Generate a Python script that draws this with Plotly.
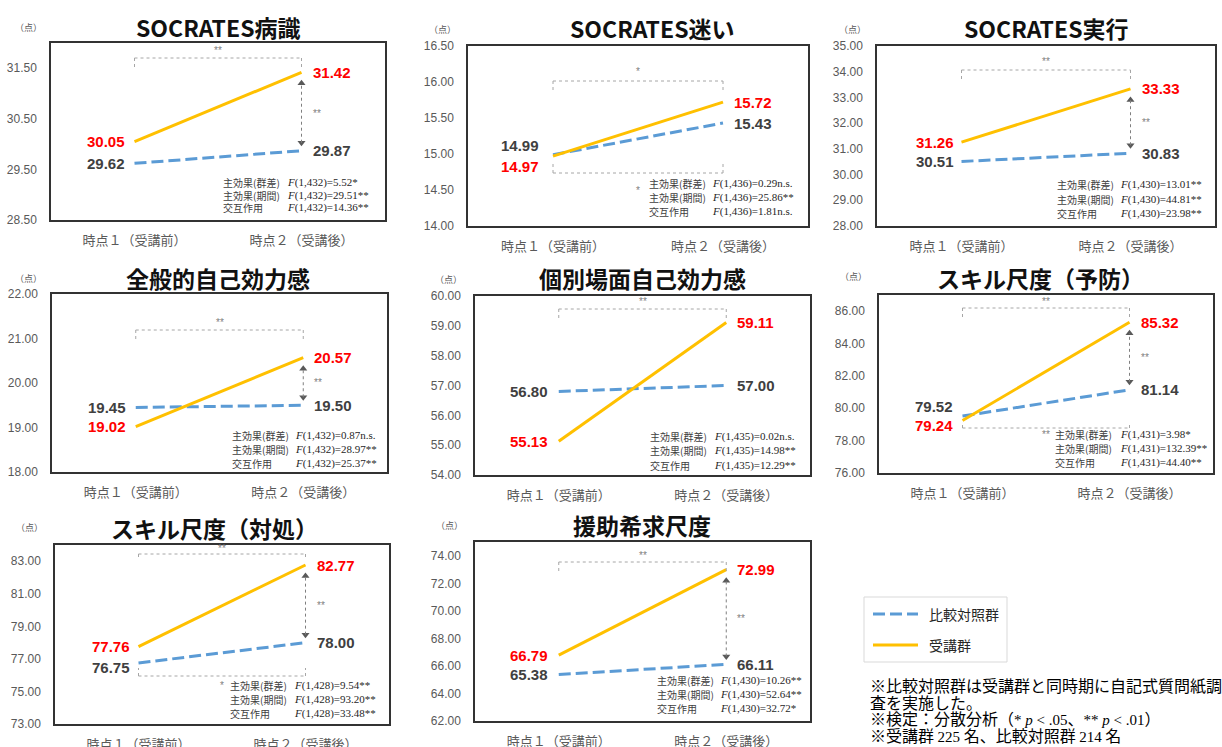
import plotly.graph_objects as go

W, H = 1222, 747

# ---- data -------------------------------------------------------------
titles = ["SOCRATES病識", "SOCRATES迷い", "SOCRATES実行", "全般的自己効力感",
          "個別場面自己効力感", "スキル尺度（予防）", "スキル尺度（対処）", "援助希求尺度"]
time_points = ["時点１（受講前）", "時点２（受講後）"]
series_names = ["比較対照群", "受講群"]

ctrl_pre = [29.62, 14.99, 30.51, 19.45, 56.80, 79.52, 76.75, 65.38]
ctrl_post = [29.87, 15.43, 30.83, 19.50, 57.00, 81.14, 78.00, 66.11]
trt_pre = [30.05, 14.97, 31.26, 19.02, 55.13, 79.24, 77.76, 66.79]
trt_post = [31.42, 15.72, 33.33, 20.57, 59.11, 85.32, 82.77, 72.99]

f_df = ["1,432", "1,436", "1,430", "1,432", "1,435", "1,431", "1,428", "1,430"]
f_group = ["5.52*", "0.29n.s.", "13.01**", "0.87n.s.", "0.02n.s.", "3.98*", "9.54**", "10.26**"]
f_period = ["29.51**", "25.86**", "44.81**", "28.97**", "14.98**", "132.39**", "93.20**", "52.64**"]
f_inter = ["14.36**", "1.81n.s.", "23.98**", "25.37**", "12.29**", "44.40**", "33.48**", "32.72*"]
effect_names = ["主効果(群差)", "主効果(期間)", "交互作用"]

sig_trt_time = ["**", "*", "**", "**", "**", "**", "**", "**"]
sig_post_group = ["**", "", "**", "**", "", "**", "**", "**"]
sig_ctrl_time = ["", "*", "", "", "", "**", "*", ""]

SERIF_SPAN = "<span style=\"font-family:'Liberation Serif';font-size:%dpx\">%s</span>"
notes = [
    "※比較対照群は受講群と同時期に自記式質問紙調",
    "査を実施した。",
    "※検定：分散分析（" + SERIF_SPAN % (15, "* <i>p</i> &lt; .05") + "、"
    + SERIF_SPAN % (15, "** <i>p</i> &lt; .01") + "）",
    "※受講群 " + SERIF_SPAN % (15, "225") + " 名、比較対照群 " + SERIF_SPAN % (15, "214") + " 名",
]

# ---- panel geometry (pixels) -----------------------------------------
panels = [
    dict(box=(51, 385, 43, 220), yr=(28.5, 32.0), dt=1, title=(218, 27), unit=(28, 27),
         stats=(221, 285, 183, 12), top=(58, 67, 51), bot=None, pre_dx=-8, shift=(0, 0)),
    dict(box=(468, 808, 46, 226), yr=(14.0, 16.5), dt=0.5, title=(652, 28), unit=(442, 29),
         stats=(647, 710, 184, 14), top=(81, 91, 72), bot=(173, 163, 190), pre_dx=-12, shift=(9, -10)),
    dict(box=(877, 1215, 46, 226), yr=(28.0, 35.0), dt=1, title=(1046, 28), unit=(852, 29),
         stats=(1055, 1118, 185, 14), top=(70, 80, 61), bot=None, pre_dx=-6, shift=(0, 0)),
    dict(box=(52, 387, 294, 472), yr=(18.0, 22.0), dt=1, title=(218, 278), unit=(28, 278),
         stats=(230, 293, 435, 14), top=(330, 339, 322), bot=None, pre_dx=-8, shift=(0, 0)),
    dict(box=(475, 810, 296, 475), yr=(54.0, 60.0), dt=1, title=(642, 278), unit=(448, 279),
         stats=(648, 712, 437, 14), top=(309, 319, 302), bot=None, pre_dx=-9, shift=(0, 0)),
    dict(box=(879, 1213, 295, 473), yr=(76.0, 87.0), dt=2, title=(1040, 278), unit=(853, 277),
         stats=(1053, 1118, 434, 14), top=(308, 318, 302), bot=(428, 422, 434), pre_dx=-8, shift=(10, -5)),
    dict(box=(55, 389, 545, 724), yr=(73.0, 84.0), dt=2, title=(214, 528), unit=(30, 527),
         stats=(228, 292, 685, 14), top=(554, 560, 548), bot=(676, 668, 685), pre_dx=-7, shift=(-5, 0)),
    dict(box=(475, 810, 542, 721), yr=(62.0, 75.0), dt=2, title=(642, 525), unit=(449, 525),
         stats=(655, 718, 680, 14), top=(562, 572, 555), bot=None, pre_dx=-9, shift=(0, 0)),
]

BLUE = "#5B9BD5"
GOLD = "#FFC000"
RED = "#FF0000"
DARK = "#404040"
GRAY = "#595959"
SIG = "#808080"
SANS = "Liberation Sans"
CJK = "Noto Sans CJK JP"
SERIF = "Liberation Serif"
CTRL_LINE = dict(color=BLUE, width=3, dash="12px,5px")
TRT_LINE = dict(color=GOLD, width=3)


def px(x):
    return x / W


def py(y):
    return 1 - y / H


fig = go.Figure()
annotations = []
shapes = []

for i, p in enumerate(panels):
    n = "" if i == 0 else str(i + 1)
    xa, ya = "x" + n, "y" + n
    x0, x1, y0, y1 = p["box"]
    lo, hi = p["yr"]
    units_per_px = (hi - lo) / (y1 - y0)

    fig.add_trace(go.Scatter(
        x=time_points, y=[ctrl_pre[i], ctrl_post[i]], mode="lines", line=CTRL_LINE,
        name=series_names[0], showlegend=False, xaxis=xa, yaxis=ya, hoverinfo="skip"))
    fig.add_trace(go.Scatter(
        x=time_points, y=[trt_pre[i], trt_post[i]], mode="lines", line=TRT_LINE,
        name=series_names[1], showlegend=False, xaxis=xa, yaxis=ya, hoverinfo="skip"))

    fig.update_layout(**{
        "xaxis" + n: dict(domain=[px(x0), px(x1)], anchor=ya, range=[-0.5, 1.5], automargin=False,
                          showline=True, mirror=True, linecolor="#333333", linewidth=1.5,
                          showgrid=False, zeroline=False, ticks="", ticklabelstandoff=8,
                          tickfont=dict(family=CJK, size=13, color=GRAY), fixedrange=True),
        "yaxis" + n: dict(domain=[py(y1), py(y0)], anchor=xa, range=[lo, hi], automargin=False,
                          tick0=lo, dtick=p["dt"], tickformat=".2f",
                          showline=True, mirror=True, linecolor="#333333", linewidth=1.5,
                          showgrid=False, zeroline=False, ticks="", ticklabelstandoff=10,
                          tickfont=dict(family=SANS, size=12, color=GRAY), fixedrange=True),
    })

    # title and unit
    annotations.append(dict(x=px(p["title"][0]), y=py(p["title"][1]), xref="paper", yref="paper",
                            text="<b>" + titles[i] + "</b>", showarrow=False,
                            font=dict(family=CJK, size=23, color="#111111"),
                            xanchor="center", yanchor="middle"))
    annotations.append(dict(x=px(p["unit"][0]), y=py(p["unit"][1]), xref="paper", yref="paper",
                            text="（点）", showarrow=False, font=dict(family=CJK, size=9, color=GRAY),
                            xanchor="center", yanchor="middle"))

    # value labels
    sh_c, sh_t = p["shift"]
    for val, col, xi, sh in [(ctrl_pre[i], DARK, 0, sh_c), (trt_pre[i], RED, 0, sh_t),
                             (ctrl_post[i], DARK, 1, 0), (trt_post[i], RED, 1, 0)]:
        annotations.append(dict(
            x=time_points[xi], y=val, xref=xa, yref=ya, text="<b>%.2f</b>" % val,
            showarrow=False, font=dict(family=SANS, size=15, color=col),
            xanchor="right" if xi == 0 else "left", yanchor="middle",
            xshift=p["pre_dx"] if xi == 0 else 9, yshift=sh))

    # statistics block
    lx, fx, sy, dy = p["stats"]
    f_vals = [f_group[i], f_period[i], f_inter[i]]
    for k in range(3):
        annotations.append(dict(x=px(lx), y=py(sy + k * dy), xref="paper", yref="paper",
                                text=effect_names[k], showarrow=False,
                                font=dict(family=CJK, size=10, color=DARK),
                                xanchor="left", yanchor="middle"))
        annotations.append(dict(x=px(fx), y=py(sy + k * dy), xref="paper", yref="paper",
                                text="<i>F</i>(" + f_df[i] + ")=" + f_vals[k], showarrow=False,
                                font=dict(family=SERIF, size=11, color="#262626"),
                                xanchor="left", yanchor="middle"))

    cx = (x0 + x1) / 2
    dline = dict(color="#A6A6A6", width=1, dash="dot")

    # bracket above: change over time for 受講群
    ly, ty, sy_ = p["top"]
    shapes.append(dict(type="line", xref=xa, yref="paper", x0=time_points[0], x1=time_points[1],
                       y0=py(ly), y1=py(ly), line=dline))
    for t in time_points:
        shapes.append(dict(type="line", xref=xa, yref="paper", x0=t, x1=t,
                           y0=py(ly), y1=py(ty), line=dline))
    annotations.append(dict(x=px(cx), y=py(sy_), xref="paper", yref="paper", text=sig_trt_time[i],
                            showarrow=False, font=dict(family=SANS, size=10, color=SIG),
                            xanchor="center", yanchor="middle"))

    # bracket below: change over time for 比較対照群
    if p["bot"] is not None:
        ly, ty, sy_ = p["bot"]
        shapes.append(dict(type="line", xref=xa, yref="paper", x0=time_points[0], x1=time_points[1],
                           y0=py(ly), y1=py(ly), line=dline))
        for t in time_points:
            shapes.append(dict(type="line", xref=xa, yref="paper", x0=t, x1=t,
                               y0=py(ly), y1=py(ty), line=dline))
        annotations.append(dict(x=px(cx), y=py(sy_), xref="paper", yref="paper", text=sig_ctrl_time[i],
                                showarrow=False, font=dict(family=SANS, size=10, color=SIG),
                                xanchor="center", yanchor="middle"))

    # vertical double arrow: group difference at time 2
    if sig_post_group[i]:
        top_end = trt_post[i] - 11 * units_per_px
        bot_end = ctrl_post[i] + 8 * units_per_px
        shapes.append(dict(type="line", xref=xa, yref=ya, x0=time_points[1], x1=time_points[1],
                           y0=bot_end, y1=top_end, line=dict(color="#7F7F7F", width=1, dash="dot")))
        fig.add_trace(go.Scatter(
            x=[time_points[1], time_points[1]], y=[top_end, bot_end], mode="markers",
            marker=dict(symbol=["triangle-up", "triangle-down"], size=7, color=GRAY),
            showlegend=False, xaxis=xa, yaxis=ya, hoverinfo="skip"))
        annotations.append(dict(x=time_points[1], y=(top_end + bot_end) / 2, xref=xa, yref=ya,
                                text=sig_post_group[i], showarrow=False, xshift=15,
                                font=dict(family=SANS, size=10, color=SIG),
                                xanchor="center", yanchor="middle"))

# legend box with line samples
shapes.append(dict(type="rect", xref="paper", yref="paper", x0=px(864), x1=px(1007),
                   y0=py(662), y1=py(597), line=dict(color="#D9D9D9", width=1), fillcolor="white"))
for name, style, yy in [(series_names[0], CTRL_LINE, 614), (series_names[1], TRT_LINE, 645)]:
    shapes.append(dict(type="line", xref="paper", yref="paper", x0=px(873), x1=px(918),
                       y0=py(yy), y1=py(yy), line=style))
    annotations.append(dict(x=px(927), y=py(yy), xref="paper", yref="paper", text=name,
                            showarrow=False, font=dict(family=CJK, size=14, color="#262626"),
                            xanchor="left", yanchor="middle"))

# footnotes
for k, line in enumerate(notes):
    annotations.append(dict(x=px(868), y=py(685 + k * 16.5), xref="paper", yref="paper", text=line,
                            showarrow=False, font=dict(family=CJK, size=16, color="#000000"),
                            xanchor="left", yanchor="middle"))

fig.update_layout(
    width=W, height=H, autosize=False,
    margin=dict(l=0, r=0, t=0, b=0),
    paper_bgcolor="white", plot_bgcolor="white",
    annotations=annotations, shapes=shapes,
    showlegend=False,
)

fig.write_html("out.html")
